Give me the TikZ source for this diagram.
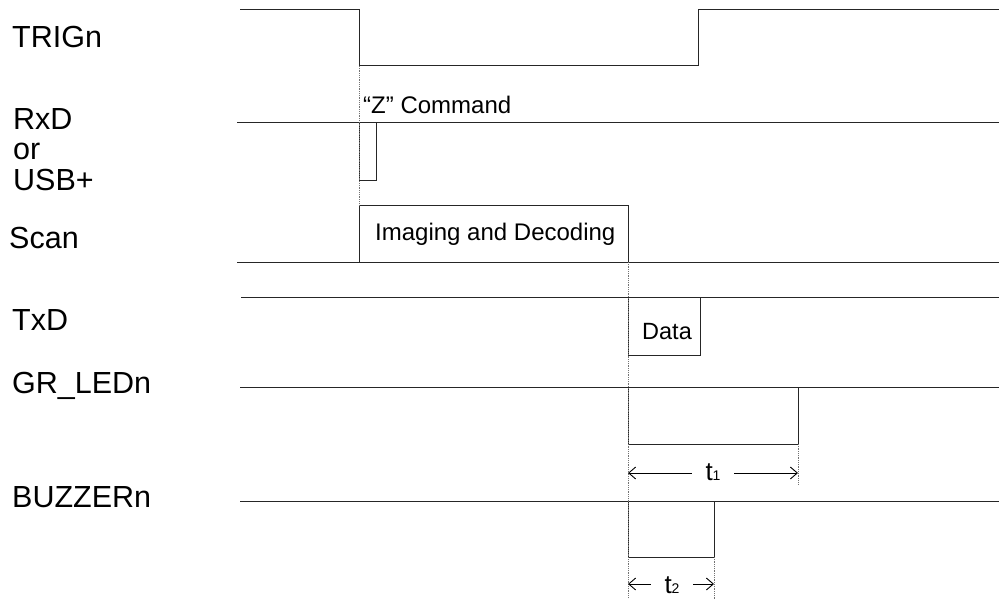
\documentclass[tikz,border=0pt]{standalone}
\usepackage{fontspec}
\setmainfont{Liberation Sans}
\usetikzlibrary{arrows.meta}

\begin{document}
\begin{tikzpicture}[
  x=1pt, y=-1pt,
  sig/.style={anchor=base west, inner sep=0pt, align=left, font=\fontsize{30.5}{30.5}\selectfont},
  txt/.style={anchor=base west, inner sep=0pt, font=\fontsize{24}{24}\selectfont},
  tlbl/.style={anchor=base, inner ysep=0pt, inner xsep=13.5pt, font=\fontsize{26}{26}\selectfont},
  wave/.style={line width=1pt, black!85},
  guide/.style={densely dotted, line width=0.8pt, black!55},
  dim/.style={-{Straight Barb[length=7pt,width=12pt]}, line width=0.9pt}
]
\useasboundingbox (0,0) rectangle (1001,599);

% signal names
\node[sig] (trig)  at (12,48)  {TRIGn};
\node[sig] (rxd)   at (13,190) {RxD\\or\\USB+};
\node[sig] (scan)  at (9,248)  {Scan};
\node[sig] (txd)   at (12,330) {TxD};
\node[sig] (led)   at (12,393) {GR\_LEDn};
\node[sig] (buzz)  at (12,507) {BUZZERn};

% waveforms
\draw[wave] (240,10) -- (359,10) -- (359,66) -- (698,66) -- (698,10) -- (999,10);
\draw[wave] (237,123) -- (999,123);
\draw[wave] (359,123) -- (359,180) -- (376,180) -- (376,123);
\draw[wave] (237,262) -- (999,262);
\draw[wave] (359,262) -- (359,205) -- (628,205) -- (628,262);
\draw[wave] (241,297) -- (999,297);
\draw[wave] (628,297) -- (628,355) -- (700,355) -- (700,297);
\draw[wave] (240,387) -- (999,387);
\draw[wave] (628,387) -- (628,444) -- (798,444) -- (798,387);
\draw[wave] (240,501) -- (999,501);
\draw[wave] (628,501) -- (628,557) -- (714,557) -- (714,501);

% texts in the pulses
\node[txt] (zcmd) at (363,114) {“Z” Command};
\node[txt] (imdec) at (375,240) {Imaging and Decoding};
\node[txt, font=\fontsize{23.5}{23.5}\selectfont] (data) at (642,339) {Data};

% guide lines
\draw[guide] (359,66) -- (359,205);
\draw[guide] (628,262) -- (628,599);
\draw[guide] (798,444) -- (798,484);
\draw[guide] (714,557) -- (714,599);

% timings
\coordinate (t1l) at (628,473);
\coordinate (t1r) at (798,473);
\coordinate (t2l) at (628,584);
\coordinate (t2r) at (714,584);
\node[tlbl] (t1) at (713,480) {t{\fontsize{14}{14}\selectfont 1}};
\node[tlbl] (t2) at (672,593) {t{\fontsize{14}{14}\selectfont 2}};
\draw[dim] (t1.west |- t1l) -- (t1l);
\draw[dim] (t1.east |- t1r) -- (t1r);
\draw[dim] (t2.west |- t2l) -- (t2l);
\draw[dim] (t2.east |- t2r) -- (t2r);
\end{tikzpicture}
\end{document}
